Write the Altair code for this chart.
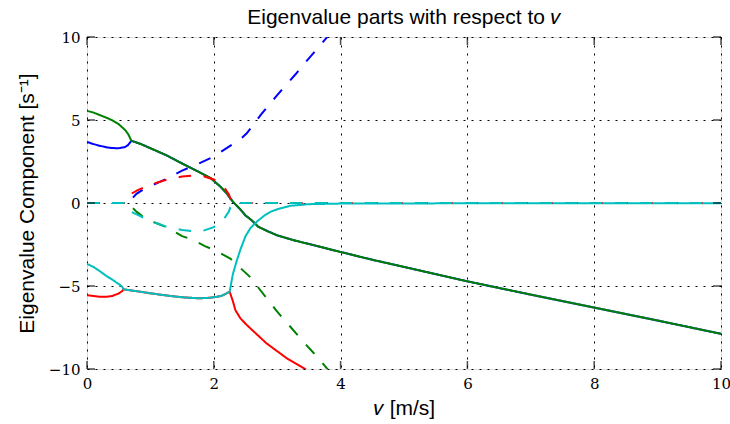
import altair as alt
import pandas as pd

# ---------------- data ----------------
# speeds (m/s) before the weave pair merges, and the two real roots there
pre_weave_v = [0.0, 0.1, 0.2, 0.3, 0.4, 0.5, 0.6, 0.65, 0.7]
blue_re_pre = [3.68, 3.55, 3.45, 3.36, 3.31, 3.30, 3.37, 3.50, 3.75]
green_re_pre = [5.55, 5.45, 5.30, 5.15, 4.98, 4.75, 4.40, 4.15, 3.75]

# weave pair real part (shared by blue and green after the merge)
weave_v = [0.85, 1.0, 1.25, 1.5, 1.75, 1.95, 2.1, 2.2, 2.3, 2.4, 2.5, 2.6, 2.7,
           2.85, 3.0, 3.25, 3.5, 4.0, 4.5, 5.0, 6.0, 7.0, 8.0, 9.0, 10.0]
weave_re = [3.55, 3.30, 2.88, 2.38, 1.90, 1.50, 1.00, 0.60, 0.08, -0.31, -0.75,
            -1.05, -1.43, -1.70, -1.95, -2.23, -2.47, -2.95, -3.42, -3.85,
            -4.72, -5.52, -6.30, -7.08, -7.88]

# red / cyan real roots before they merge
pre_pair_v = [0.0, 0.1, 0.2, 0.3, 0.4, 0.5, 0.55, 0.58]
red_re_pre = [-5.55, -5.60, -5.65, -5.65, -5.60, -5.45, -5.32, -5.20]
cyan_re_pre = [-3.67, -3.85, -4.10, -4.38, -4.62, -4.88, -5.03, -5.20]

# shared real part of the red/cyan complex pair
pair_v = [0.7, 0.85, 1.0, 1.25, 1.5, 1.75, 1.9, 2.0, 2.12, 2.2, 2.25]
pair_re = [-5.27, -5.35, -5.44, -5.57, -5.68, -5.74, -5.72, -5.68, -5.60, -5.45, -5.34]

# after the split
cyan_post_v = [2.3, 2.36, 2.42, 2.5, 2.58, 2.68, 2.8, 2.9, 3.0, 3.2, 3.5, 4.0, 5.0, 6.0, 8.0, 10.0]
cyan_post = [-4.30, -3.50, -2.80, -2.00, -1.50, -1.12, -0.75, -0.52, -0.38, -0.17,
             -0.07, -0.035, -0.025, -0.02, -0.015, -0.01]
red_post_v = [2.3, 2.34, 2.42, 2.52, 2.83, 3.15, 3.44, 3.6]
red_post = [-5.90, -6.45, -6.95, -7.35, -8.45, -9.35, -10.0, -10.5]

# imaginary parts
blue_im_v = [0.0, 0.7, 0.72, 0.78, 0.9, 1.0, 1.25, 1.5, 1.75, 2.0, 2.16, 2.32, 2.45,
             2.52, 2.65, 2.75, 2.88, 3.0, 3.15, 3.3, 3.45, 3.6, 3.8, 3.9]
blue_im = [0.0, 0.0, 0.30, 0.55, 0.85, 1.02, 1.45, 1.95, 2.35, 2.80, 3.20, 3.60, 3.95,
           4.20, 4.85, 5.35, 5.95, 6.50, 7.15, 7.80, 8.50, 9.15, 10.05, 10.5]
green_im_v = [0.0, 0.7, 0.72, 0.78, 0.94, 1.12, 1.28, 1.5, 1.66, 1.86, 2.02, 2.26,
              2.57, 2.99, 3.41, 3.65, 3.9]
green_im = [0.0, 0.0, -0.30, -0.52, -1.0, -1.25, -1.50, -2.0, -2.2, -2.6, -2.85, -3.35,
            -4.45, -6.5, -8.35, -9.35, -10.5]
pair_im_v = [0.0, 0.58, 0.6, 0.65, 0.8, 1.0, 1.25, 1.5, 1.7, 1.85, 2.0, 2.1, 2.18,
             2.24, 2.28, 10.0]
red_im = [0.0, 0.0, 0.30, 0.45, 0.78, 1.10, 1.40, 1.60, 1.66, 1.60, 1.42, 1.18, 0.85,
          0.50, 0.0, 0.0]
cyan_im = [0.0, 0.0, -0.30, -0.45, -0.72, -1.08, -1.42, -1.62, -1.72, -1.65, -1.45,
           -1.18, -0.85, -0.50, 0.0, 0.0]

x_ticks = [0, 2, 4, 6, 8, 10]
y_ticks = [-10, -5, 0, 5, 10]

colors = {"b": "#0000ff", "g": "#008000", "r": "#ff0000", "c": "#00bfbf"}

series = [
    ("b", "re", pre_weave_v + weave_v, blue_re_pre + weave_re),
    ("g", "re", pre_weave_v + weave_v, green_re_pre + weave_re),
    ("r", "re", pre_pair_v + pair_v + red_post_v, red_re_pre + pair_re + red_post),
    ("c", "re", pre_pair_v + pair_v + cyan_post_v, cyan_re_pre + pair_re + cyan_post),
    ("b", "im", blue_im_v, blue_im),
    ("g", "im", green_im_v, green_im),
    ("r", "im", pair_im_v, red_im),
    ("c", "im", pair_im_v, cyan_im),
]

xs = alt.Scale(domain=[0, 10], nice=False, zero=False)
ys = alt.Scale(domain=[-10, 10], nice=False, zero=False)

x_axis = alt.Axis(values=x_ticks, title="𝑣 [m/s]", titlePadding=6)
y_axis = alt.Axis(values=y_ticks, title="Eigenvalue Component [s⁻¹]", titlePadding=11)

layers = []
first = True
for col, part, vv, yy in series:
    df = pd.DataFrame({"v": vv, "val": yy})
    mark = alt.Chart(df).mark_line(
        color=colors[col], strokeWidth=2, clip=True,
        strokeDash=[12.5, 12.5] if part == "im" else [1, 0],
        strokeCap="butt", interpolate="linear")
    if first:
        enc = mark.encode(x=alt.X("v:Q", scale=xs, axis=x_axis),
                          y=alt.Y("val:Q", scale=ys, axis=y_axis))
        first = False
    else:
        enc = mark.encode(x=alt.X("v:Q", scale=xs), y=alt.Y("val:Q", scale=ys))
    layers.append(enc)

# inward ticks on all four sides
xt = pd.DataFrame({"t": x_ticks})
yt = pd.DataFrame({"t": y_ticks})
tick_style = dict(color="black", thickness=1.5, size=8)
layers.append(alt.Chart(xt).mark_tick(orient="vertical", yOffset=-4, **tick_style).encode(
    x=alt.X("t:Q", scale=xs), y=alt.datum(-10, scale=ys)))
layers.append(alt.Chart(xt).mark_tick(orient="vertical", yOffset=4, **tick_style).encode(
    x=alt.X("t:Q", scale=xs), y=alt.datum(10, scale=ys)))
layers.append(alt.Chart(yt).mark_tick(orient="horizontal", xOffset=4, **tick_style).encode(
    y=alt.Y("t:Q", scale=ys), x=alt.datum(0, scale=xs)))
layers.append(alt.Chart(yt).mark_tick(orient="horizontal", xOffset=-4, **tick_style).encode(
    y=alt.Y("t:Q", scale=ys), x=alt.datum(10, scale=xs)))

chart = alt.layer(*layers).properties(
    width=634, height=332,
    title=alt.TitleParams("Eigenvalue parts with respect to 𝑣", font="Liberation Sans",
                          fontSize=21, fontWeight="normal", anchor="middle", offset=2,
                          color="black"),
    autosize=alt.AutoSizeParams(type="none"),
    padding={"left": 87, "top": 37, "right": 9, "bottom": 55},
).configure_view(stroke="black", strokeWidth=2.5).configure(background="white").configure_axis(
    grid=True, ticks=False, domain=False,
    labelFont="DejaVu Serif", labelFontSize=15, labelColor="black",
    labelFlush=False, labelOverlap=False, labelPadding=7, format="d",
    titleFont="Liberation Sans", titleFontSize=21, titleFontWeight="normal",
    titleColor="black",
    gridColor="black", gridDash=[2, 6], gridWidth=1, gridOpacity=1,
)

chart.save("out.html", embed_options={"renderer": "svg", "actions": False})
